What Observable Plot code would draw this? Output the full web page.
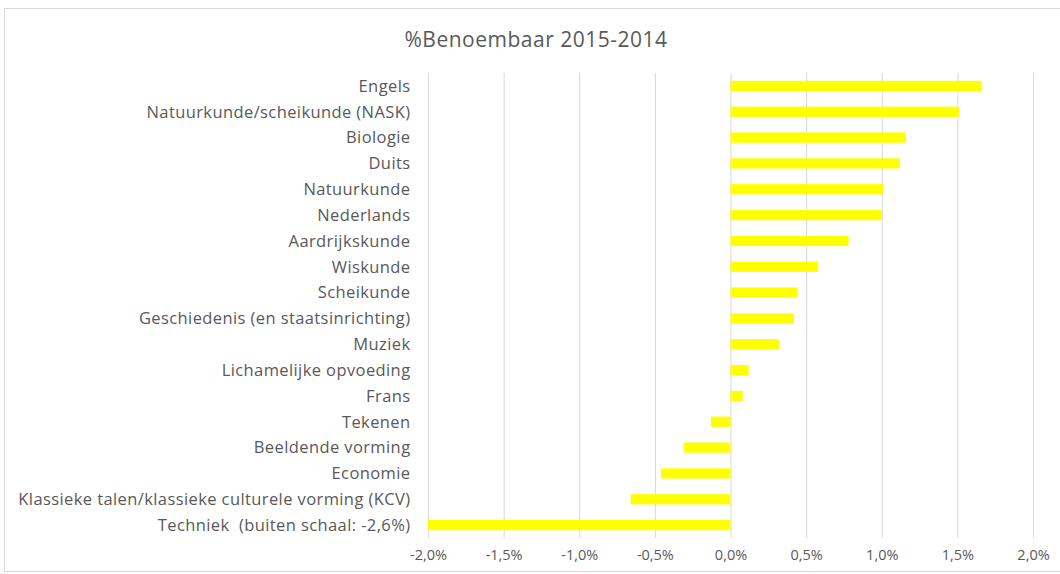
<!DOCTYPE html>
<html>
<head>
<meta charset="utf-8">
<script src="https://cdn.jsdelivr.net/npm/d3@7"></script>
<script src="https://cdn.jsdelivr.net/npm/@observablehq/plot@0.6"></script>
<style>
  html, body { margin: 0; padding: 0; background: #fff; }
  #wrap { position: relative; width: 1060px; height: 574px; overflow: hidden; font-family: "Open Sans", Lato, sans-serif; }
  #frame { position: absolute; left: 4px; top: 8px; width: 1070px; height: 564px; border: 1px solid #d9d9d9; box-sizing: border-box; }
  #title { position: absolute; left: 4px; width: 1064px; top: 25px; text-align: center; font-size: 21px; letter-spacing: 0.5px; color: #595959; }
  #chart { position: absolute; left: 0; top: 0; }
  #chart svg g[aria-label="y-axis tick label"] text { letter-spacing: 0.4px; }
</style>
</head>
<body>
<div id="wrap">
  <div id="frame"></div>
  <div id="title">%Benoembaar 2015-2014</div>
  <div id="chart"></div>
</div>
<script>
const subjects = [
  "Engels",
  "Natuurkunde/scheikunde (NASK)",
  "Biologie",
  "Duits",
  "Natuurkunde",
  "Nederlands",
  "Aardrijkskunde",
  "Wiskunde",
  "Scheikunde",
  "Geschiedenis (en staatsinrichting)",
  "Muziek",
  "Lichamelijke opvoeding",
  "Frans",
  "Tekenen",
  "Beeldende vorming",
  "Economie",
  "Klassieke talen/klassieke culturele vorming (KCV)",
  "Techniek  (buiten schaal: -2,6%)"
];
const changes = [
  0.0166, 0.0151, 0.0116, 0.0112, 0.0101, 0.0100, 0.0078, 0.0058, 0.0044,
  0.0042, 0.0032, 0.0012, 0.0008, -0.0013, -0.0031, -0.0046, -0.0066, -0.026
];
const xTicks = [-0.02, -0.015, -0.01, -0.005, 0, 0.005, 0.01, 0.015, 0.02];

const data = subjects.map((s, i) => ({subject: s, value: changes[i]}));
const nl = d3.formatLocale({decimal: ",", thousands: ".", grouping: [3], currency: ["€", ""], minus: "-"});
const pct = nl.format(".1%");

const chart = Plot.plot({
  width: 1060,
  height: 574,
  marginTop: 73,
  marginBottom: 36,
  marginLeft: 428,
  marginRight: 27,
  style: {fontFamily: "'Open Sans', Lato, sans-serif", color: "#595959", background: "transparent"},
  x: {domain: [-0.02, 0.02], clamp: true, ticks: xTicks, tickFormat: pct, label: null},
  y: {domain: subjects, padding: 0, round: false, label: null},
  marks: [
    Plot.gridX(xTicks, {stroke: "#d9d9d9", strokeOpacity: 1}),
    Plot.barX(data, {x1: 0, x2: "value", y: "subject", fill: "#ffff00", insetTop: 7.8, insetBottom: 7.8}),
    Plot.axisX(xTicks, {tickSize: 0, tickPadding: 11, fontSize: 14.5, fill: "#595959", tickFormat: pct, label: null}),
    Plot.axisY({tickSize: 0, tickPadding: 18, fontSize: 16.5, fill: "#595959", label: null})
  ]
});
document.getElementById("chart").appendChild(chart);
</script>
</body>
</html>
